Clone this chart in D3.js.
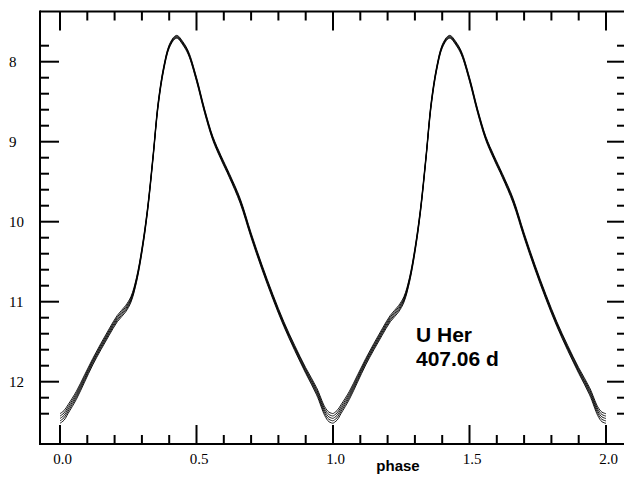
<!DOCTYPE html>
<html>
<head>
<meta charset="utf-8">
<script src="https://cdn.jsdelivr.net/npm/d3@7"></script>
<style>
  html, body { margin: 0; padding: 0; background: #fff; overflow: hidden; }
  svg { display: block; }
</style>
</head>
<body>
<div id="chart"></div>
<script>
// fase y magnitud (un ciclo, se dibuja dos veces)
const phase = [0.00, 0.015, 0.03, 0.06, 0.09, 0.12, 0.15, 0.18, 0.21, 0.24, 0.26, 0.28, 0.30, 0.32, 0.34, 0.36, 0.38,
  0.40, 0.42, 0.43, 0.45, 0.47, 0.50, 0.53, 0.56, 0.59, 0.62, 0.66, 0.70, 0.74, 0.78, 0.82, 0.86, 0.90, 0.94, 0.97, 0.985, 1.00];
const mag = [12.46, 12.42, 12.34, 12.17, 11.96, 11.75, 11.56, 11.38, 11.21, 11.09, 10.97, 10.73, 10.36, 9.87, 9.22, 8.52, 8.08,
  7.81, 7.70, 7.69, 7.77, 7.89, 8.22, 8.62, 8.96, 9.20, 9.42, 9.74, 10.17, 10.57, 10.94, 11.28, 11.58, 11.86, 12.12, 12.37, 12.44, 12.46];
// ancho (medio) del haz de curvas, en magnitudes
const spread = [0.06, 0.06, 0.055, 0.05, 0.045, 0.04, 0.04, 0.04, 0.04, 0.04, 0.035, 0.03, 0.03, 0.03, 0.03, 0.03, 0.025,
  0.02, 0.018, 0.018, 0.02, 0.022, 0.025, 0.025, 0.025, 0.025, 0.025, 0.03, 0.03, 0.03, 0.03, 0.03, 0.032, 0.035, 0.045, 0.055, 0.06, 0.06];
const cycles = [0, 1];

const xMajor = [0, 0.5, 1.0, 1.5, 2.0];
const xLabels = ['0.0', '0.5', '1.0', '1.5', '2.0'];
const yMajor = [8, 9, 10, 11, 12];
const starName = 'U Her';
const periodText = '407.06 d';

const width = 624, height = 477;
// el borde derecho queda fuera de la imagen, solo se ven sus ticks
const frame = { left: 40, right: 626, top: 11.5, bottom: 444 };

const x = d3.scaleLinear().domain([0, 2]).range([60, 606]);
const y = d3.scaleLinear().domain([8, 12]).range([61.7, 381.7]);

const svg = d3.select('#chart').append('svg')
  .attr('width', width)
  .attr('height', height);

// --- marco (izquierda, arriba, abajo) ---
const border = svg.append('g').attr('stroke', '#000').attr('stroke-width', 2);
border.append('line').attr('x1', frame.left).attr('x2', frame.left).attr('y1', frame.top - 1).attr('y2', frame.bottom + 1);
border.append('line').attr('x1', frame.left).attr('x2', width).attr('y1', frame.top).attr('y2', frame.top);
border.append('line').attr('x1', frame.left).attr('x2', width).attr('y1', frame.bottom).attr('y2', frame.bottom);

// --- ticks ---
const xMinor = d3.range(0, 21).map(i => i / 10).filter(v => !xMajor.some(m => Math.abs(m - v) < 1e-6));
const yMinor = d3.range(39, 63).map(i => i / 5).filter(v => !yMajor.some(m => Math.abs(m - v) < 1e-6));
const MAJ = 19, MIN = 9;

const ticks = svg.append('g').attr('stroke', '#000').attr('stroke-width', 2);
function xTick(v, len) {
  ticks.append('line').attr('x1', x(v)).attr('x2', x(v)).attr('y1', frame.bottom).attr('y2', frame.bottom - len);
  ticks.append('line').attr('x1', x(v)).attr('x2', x(v)).attr('y1', frame.top).attr('y2', frame.top + len);
}
function yTick(v, len) {
  ticks.append('line').attr('y1', y(v)).attr('y2', y(v)).attr('x1', frame.left).attr('x2', frame.left + len);
  ticks.append('line').attr('y1', y(v)).attr('y2', y(v)).attr('x1', frame.right).attr('x2', frame.right - len);
}
xMajor.forEach(v => xTick(v, MAJ));
xMinor.forEach(v => xTick(v, MIN));
yMajor.forEach(v => yTick(v, MAJ));
yMinor.forEach(v => yTick(v, MIN));

// etiquetas de ejes
svg.append('g').selectAll('text')
  .data(xMajor)
  .join('text')
  .attr('x', d => x(d) + 2.5)
  .attr('y', 464)
  .attr('text-anchor', 'middle')
  .attr('font-family', 'Liberation Serif, serif')
  .attr('font-size', 15)
  .text((d, i) => xLabels[i]);

svg.append('g').selectAll('text')
  .data(yMajor)
  .join('text')
  .attr('x', 9)
  .attr('y', d => y(d) + 5)
  .attr('font-family', 'Liberation Serif, serif')
  .attr('font-size', 15)
  .text(d => d);

svg.append('text')
  .attr('x', 398)
  .attr('y', 470.5)
  .attr('text-anchor', 'middle')
  .attr('font-family', 'Liberation Sans, Arial, sans-serif')
  .attr('font-weight', 'bold')
  .attr('font-size', 15)
  .text('phase');

// --- curva: haz de 5 lineas finas ---
const offsets = [-1, -0.5, 0, 0.5, 1];
const line = d3.line()
  .x(d => x(d.p))
  .y(d => y(d.m))
  .curve(d3.curveCatmullRom.alpha(0.5));

const curveG = svg.append('g')
  .attr('fill', 'none')
  .attr('stroke', '#000')
  .attr('stroke-width', 0.9);

cycles.forEach(c => {
  offsets.forEach(k => {
    const pts = phase.map((p, i) => ({ p: p + c, m: mag[i] + k * spread[i] }));
    curveG.append('path').attr('d', line(pts));
  });
});

// --- anotacion ---
const note = svg.append('g')
  .attr('font-family', 'Liberation Sans, Arial, sans-serif')
  .attr('font-weight', 'bold')
  .attr('font-size', 21)
  .attr('fill', '#000');
note.append('text').attr('x', 416).attr('y', 342).text(starName);
note.append('text').attr('x', 416).attr('y', 366).text(periodText);
</script>
</body>
</html>
